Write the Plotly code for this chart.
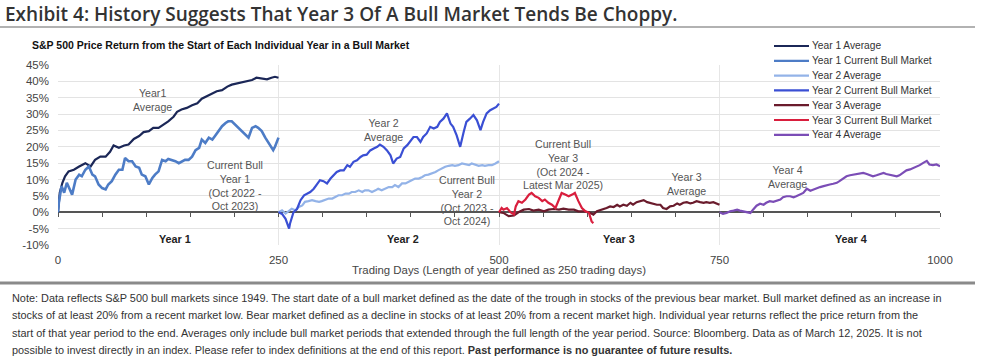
import plotly.graph_objects as go

# ---------------- data ----------------
series_names = ["Year 1 Average", "Year 1 Current Bull Market", "Year 2 Average",
                "Year 2 Current Bull Market", "Year 3 Average", "Year 3 Current Bull Market",
                "Year 4 Average"]
series_colors = ["#1b2757", "#4d7cc6", "#93b3e8", "#3a4fd4", "#6a1b2c", "#d91e3d", "#7b4db6"]
series_widths = [2.2, 2.6, 2.2, 2.2, 2.2, 2.2, 2.2]

y1_avg_days = [0, 2, 5, 8, 12, 18, 24, 31, 37, 42, 48, 54, 59, 63, 69, 75, 80, 86, 92, 97, 103, 108, 114,
               120, 125, 131, 135, 140, 146, 152, 158, 163, 169, 175, 180, 186, 192, 197, 203, 209, 214,
               220, 225, 231, 237, 242, 246, 250]
y1_avg_vals = [0, 6, 9, 11, 12.5, 13, 14, 15, 14, 16, 17, 17, 18.5, 20.4, 19.7, 20.4, 20.7, 22.4, 23.3, 24.5,
               24.8, 25.8, 25.8, 26.8, 27.8, 29.2, 30.7, 31.4, 31.9, 32.7, 33.3, 34.7, 35.5, 36.5, 37, 37.3,
               38.4, 39, 39.4, 39.6, 40.1, 40.4, 41.1, 40.8, 40.6, 41.1, 41.4, 41.1]

y1_cur_days = [0, 1, 4, 7, 10, 14, 16, 20, 24, 27, 31, 35, 39, 42, 46, 50, 54, 57, 61, 65, 69, 73, 76, 80,
               84, 88, 92, 95, 99, 103, 107, 110, 114, 118, 122, 125, 129, 133, 137, 141, 144, 148, 152,
               156, 160, 163, 167, 171, 175, 178, 182, 186, 190, 193, 197, 201, 205, 209, 212, 216, 220,
               224, 227, 231, 235, 239, 242, 244, 246, 250]
y1_cur_vals = [0, 3, 8, 6, 9, 6.4, 5.4, 10, 11.5, 11, 13, 14, 11.5, 11, 8.5, 7.4, 7, 8.5, 9.5, 11.5, 13, 13,
               16.6, 15.6, 15.6, 14, 13.6, 11.5, 11, 8.5, 10.5, 11.5, 12.5, 16, 15.6, 16.3, 16, 15.6, 15,
               15.6, 16, 16, 17, 19, 19.7, 22.2, 21.2, 22.8, 22.2, 23.3, 24.8, 26.3, 27.3, 27.8, 27.8, 26.8,
               25.8, 24.8, 23.8, 22.8, 25.8, 26.3, 25.8, 24.8, 22.8, 21.2, 19.7, 19, 20, 22.8]

y2_avg_days = [250, 254, 258, 262, 265, 269, 273, 277, 280, 284, 288, 292, 296, 299, 303, 307, 311, 314, 318,
               322, 326, 330, 333, 337, 341, 345, 348, 352, 356, 360, 363, 367, 371, 375, 379, 382, 386,
               390, 394, 397, 401, 405, 409, 413, 416, 420, 424, 428, 431, 435, 439, 443, 447, 450, 454,
               458, 462, 466, 469, 473, 477, 481, 484, 488, 492, 496, 500]
y2_avg_vals = [0, 0.6, -0.4, 0.6, 1.1, 0.6, 1.6, 2.1, 3.2, 3.4, 3.7, 3.4, 3.2, 3.4, 3.7, 4.2, 4.2, 4.7, 5.2,
               5.2, 5.7, 5.7, 6.2, 6.2, 6.7, 6.2, 6.7, 6.7, 6.2, 6.7, 7.2, 6.7, 7.2, 7.7, 7.7, 8.3, 7.7, 8.8,
               8.8, 9.3, 9.8, 10.3, 10.3, 10.8, 11.3, 11.5, 11.8, 12.3, 12.8, 13.4, 13.9, 14.2, 14.4, 14.2,
               14.4, 14.9, 14.6, 14.4, 14.9, 14.6, 14.2, 14.4, 14.2, 14.4, 14.4, 14.9, 15.6]

y2_cur_days = [250, 254, 258, 262, 263, 267, 271, 275, 279, 282, 286, 290, 294, 297, 301, 305, 309, 313, 316,
               320, 324, 328, 331, 335, 339, 343, 346, 350, 354, 358, 362, 365, 369, 373, 377, 380, 384,
               388, 392, 396, 399, 403, 407, 411, 414, 418, 422, 426, 430, 433, 437, 441, 445, 448, 452,
               456, 460, 463, 467, 471, 475, 479, 482, 486, 490, 494, 497, 500]
y2_cur_vals = [0, -0.5, -2, -5, -3.5, 0, 1, 3.7, 5.2, 5.7, 6.2, 7.2, 8.8, 9.8, 9.5, 8.8, 10.3, 11.3, 12.3,
               12.8, 12.8, 14.4, 13.9, 15.4, 15.9, 16.9, 17.4, 17.6, 18.9, 19.5, 20, 20.7, 20, 18.9, 17.4,
               14.9, 16.4, 16.9, 19.5, 20.5, 21.5, 23, 23, 21.5, 23, 24.1, 26.1, 25.6, 26.1, 27.6, 28.6,
               30.2, 27.1, 26.1, 23.5, 20, 24.6, 27.6, 28.6, 29.7, 28.1, 25.1, 27.6, 30.2, 31.2, 31.7, 32.2,
               33.2]

y3_avg_days = [500, 505, 511, 517, 522, 528, 534, 539, 545, 551, 556, 562, 568, 573, 579, 585, 590, 596, 602,
               607, 611, 617, 622, 626, 630, 634, 637, 641, 645, 649, 652, 656, 660, 664, 668, 671, 675,
               679, 683, 686, 690, 694, 698, 702, 705, 709, 713, 717, 720, 724, 728, 732, 735, 739, 743,
               747, 750]
y3_avg_vals = [0, -0.2, -1.2, -1, 0, 0.8, 1, 0.5, 0.8, 0.3, 0.8, 1, 0.8, 1.1, 0.8, 0.8, 0.3, 0.3, 0, -0.7,
               0.3, 0.8, 1.3, 1.8, 1.6, 2.3, 1.8, 2.3, 2, 2.9, 2.3, 3.1, 3.4, 3.7, 3.1, 2.9, 2.7, 2.3, 2.3,
               1.3, 1, 1.8, 2, 2.7, 2.3, 2.9, 3.1, 2.7, 2.9, 3.4, 3.1, 2.9, 3.1, 2.9, 3.1, 2.7, 2.3]

y3_cur_days = [500, 503, 505, 509, 513, 517, 519, 522, 526, 530, 534, 537, 541, 545, 549, 552, 556, 560, 564,
               568, 571, 575, 579, 583, 586, 590, 594, 598, 602, 605, 607]
y3_cur_vals = [0, 1.3, 0.8, 1.3, 0, -0.7, 1.8, 3.4, 2.9, 3.9, 5.4, 5.9, 4.9, 4.4, 3.4, 3.9, 2.9, 2.3, 1.3,
               3.9, 5.9, 5.4, 4.9, 5.4, 5.9, 3.4, 1.3, 0.3, -0.2, -2.8, -3.3]

y4_avg_days = [750, 754, 758, 762, 766, 770, 773, 777, 781, 785, 788, 792, 796, 800, 803, 807, 811, 815, 819,
               822, 826, 830, 834, 837, 841, 845, 849, 853, 856, 860, 864, 868, 871, 875, 879, 883, 886,
               890, 894, 898, 902, 905, 909, 913, 917, 920, 924, 928, 932, 936, 939, 943, 947, 951, 954,
               958, 962, 966, 970, 973, 977, 981, 985, 988, 992, 996, 1000]
y4_avg_vals = [0, -0.5, -0.2, 0.3, 0.5, 0.8, 0.5, 0.3, 0, -0.2, 0.8, 2, 2.6, 2.3, 2.9, 3.4, 3.2, 3.6, 3.9,
               4.6, 4.9, 4.9, 4.6, 4.9, 5.4, 5.9, 7.2, 6.6, 6.9, 7.4, 7.7, 8, 8.3, 8.5, 8.7, 9, 9.5, 10.3,
               11, 11.3, 11.5, 11.5, 11.7, 12, 11.7, 11.3, 11, 11.3, 11.7, 12, 11.7, 11.5, 11.3, 11, 11.3,
               12, 12.8, 13.1, 13.6, 13.8, 14.4, 15.1, 15.7, 14.6, 14.4, 14.6, 14.1]

x_tick_vals = [0, 250, 500, 750, 1000]
x_tick_text = ["0", "250", "500", "750", "1000"]
y_tick_vals = [-10, -5, 0, 5, 10, 15, 20, 25, 30, 35, 40, 45]
y_tick_text = ["-10%", "-5%", "0%", "5%", "10%", "15%", "20%", "25%", "30%", "35%", "40%", "45%"]

year_labels = ["Year 1", "Year 2", "Year 3", "Year 4"]
year_label_x = [133, 391, 636, 899]
year_label_y = -8.3

series_labels = ["Year1<br>Average", "Current Bull<br>Year 1<br>(Oct 2022 -<br>Oct 2023)",
                 "Year 2<br>Average", "Current Bull<br>Year 2<br>(Oct 2023 -<br>Oct 2024)",
                 "Current Bull<br>Year 3<br>(Oct 2024 -<br>Latest Mar 2025)",
                 "Year 3<br>Average", "Year 4<br>Average"]
series_label_x = [107, 201, 369, 464, 573, 713, 827]
series_label_y = [34.2, 8.3, 25.0, 3.6, 14.7, 8.6, 10.7]

title_text = "Exhibit 4: History Suggests That Year 3 Of A Bull Market Tends Be Choppy."
subtitle_text = "S&P 500 Price Return from the Start of Each Individual Year in a Bull Market"
xaxis_title = "Trading Days (Length of year defined as 250 trading days)"
note_lines = [
    "Note: Data reflects S&P 500 bull markets since 1949. The start date of a bull market defined as the date of the trough in stocks of the previous bear market. Bull market defined as an increase in",
    "stocks of at least 20% from a recent market low. Bear market defined as a decline in stocks of at least 20% from a recent market high. Individual year returns reflect the price return from the",
    "start of that year period to the end. Averages only include bull market periods that extended through the full length of the year period. Source: Bloomberg. Data as of March 12, 2025. It is not",
    "possible to invest directly in an index. Please refer to index definitions at the end of this report. <b>Past performance is no guarantee of future results.</b>",
]

# ---------------- figure ----------------
W, H = 981, 359
L, R, T, B = 58, 41, 65, 114
PW, PH = W - L - R, H - T - B


def px_x(px):
    return (px - L) / PW


def px_y(py):
    return (H - B - py) / PH


SANS = "Liberation Sans, Arial, sans-serif"

all_days = [y1_avg_days, y1_cur_days, y2_avg_days, y2_cur_days, y3_avg_days, y3_cur_days, y4_avg_days]
all_vals = [y1_avg_vals, y1_cur_vals, y2_avg_vals, y2_cur_vals, y3_avg_vals, y3_cur_vals, y4_avg_vals]

fig = go.Figure()
for name, color, wdt, d, v in zip(series_names, series_colors, series_widths, all_days, all_vals):
    fig.add_trace(go.Scatter(x=d, y=v, mode="lines", name=name,
                             line=dict(color=color, width=wdt), showlegend=False))

# invisible trace carrying the small tick marks along the zero line
fig.add_trace(go.Scatter(x=[0, 1000], y=[0, 0], mode="lines", line=dict(width=0),
                         xaxis="x2", hoverinfo="skip", showlegend=False))

annotations = []
for lbl, x, y in zip(series_labels, series_label_x, series_label_y):
    annotations.append(dict(x=x, y=y, xref="x", yref="y", text=lbl, showarrow=False,
                            font=dict(family=SANS, size=10.6, color="#555555"), align="center"))
for lbl, x in zip(year_labels, year_label_x):
    annotations.append(dict(x=x, y=year_label_y, xref="x", yref="y", text="<b>" + lbl + "</b>",
                            showarrow=False, font=dict(family=SANS, size=10.8, color="#222222")))

annotations.append(dict(x=px_x(3), y=px_y(14), xref="paper", yref="paper", text=title_text,
                        showarrow=False, xanchor="left", yanchor="middle",
                        font=dict(family="Open Sans, sans-serif", size=19, color="#333333", weight=600)))
annotations.append(dict(x=px_x(30), y=px_y(45), xref="paper", yref="paper", text="<b>" + subtitle_text + "</b>",
                        showarrow=False, xanchor="left", yanchor="middle",
                        font=dict(family=SANS, size=10.5, color="#111111")))
annotations.append(dict(x=px_x(499), y=px_y(270), xref="paper", yref="paper", text=xaxis_title,
                        showarrow=False, xanchor="center", yanchor="middle",
                        font=dict(family=SANS, size=11.4, color="#444444")))
for i, line in enumerate(note_lines):
    annotations.append(dict(x=px_x(10), y=px_y(298 + i * 17.3), xref="paper", yref="paper", text=line,
                            showarrow=False, xanchor="left", yanchor="middle",
                            font=dict(family=SANS, size=10.9, color="#333333")))

shapes = [
    dict(type="line", xref="paper", yref="paper", x0=px_x(0), x1=px_x(975), y0=px_y(27), y1=px_y(27),
         line=dict(color="#999999", width=1.5)),
    dict(type="line", xref="paper", yref="paper", x0=px_x(0), x1=px_x(975), y0=px_y(283), y1=px_y(283),
         line=dict(color="#8a8a8a", width=3)),
]

# manual legend (compact spacing like the reference)
leg_y0, leg_dy = 46, 14.8
for i, (name, color) in enumerate(zip(series_names, series_colors)):
    yy = leg_y0 + i * leg_dy
    shapes.append(dict(type="line", xref="paper", yref="paper", x0=px_x(774), x1=px_x(809),
                       y0=px_y(yy), y1=px_y(yy), line=dict(color=color, width=2.2)))
    annotations.append(dict(x=px_x(810), y=px_y(yy), xref="paper", yref="paper", text=name,
                            showarrow=False, xanchor="left", yanchor="middle",
                            font=dict(family=SANS, size=10.2, color="#333333")))

fig.update_layout(
    width=W, height=H,
    margin=dict(l=L, r=R, t=T, b=B, pad=0),
    paper_bgcolor="white", plot_bgcolor="white",
    showlegend=False,
    annotations=annotations,
    shapes=shapes,
    xaxis=dict(range=[0, 1000], tickmode="array", tickvals=x_tick_vals, ticktext=x_tick_text,
               showgrid=True, gridcolor="#e6e6e6", gridwidth=1, zeroline=False, showline=False,
               ticks="", ticklabelstandoff=6,
               tickfont=dict(family=SANS, size=11.5, color="#444444")),
    xaxis2=dict(range=[0, 1000], overlaying="x", anchor="free", position=10 / 55, side="bottom",
                tickmode="linear", tick0=0, dtick=50, ticks="outside", ticklen=4, tickwidth=1.2,
                tickcolor="#555555", showticklabels=False, showgrid=False, zeroline=False, showline=False),
    yaxis=dict(range=[-10, 45], tickmode="array", tickvals=y_tick_vals, ticktext=y_tick_text,
               showgrid=True, gridcolor="#e3e3e3", gridwidth=1, zeroline=True, zerolinecolor="#555555",
               zerolinewidth=1.6, showline=False, ticks="", ticklabelstandoff=8,
               tickfont=dict(family=SANS, size=11.5, color="#444444")),
)

fig.write_html("out.html", config={"displayModeBar": False},
               post_script="document.body.style.margin='0';document.body.style.overflow='hidden';")
